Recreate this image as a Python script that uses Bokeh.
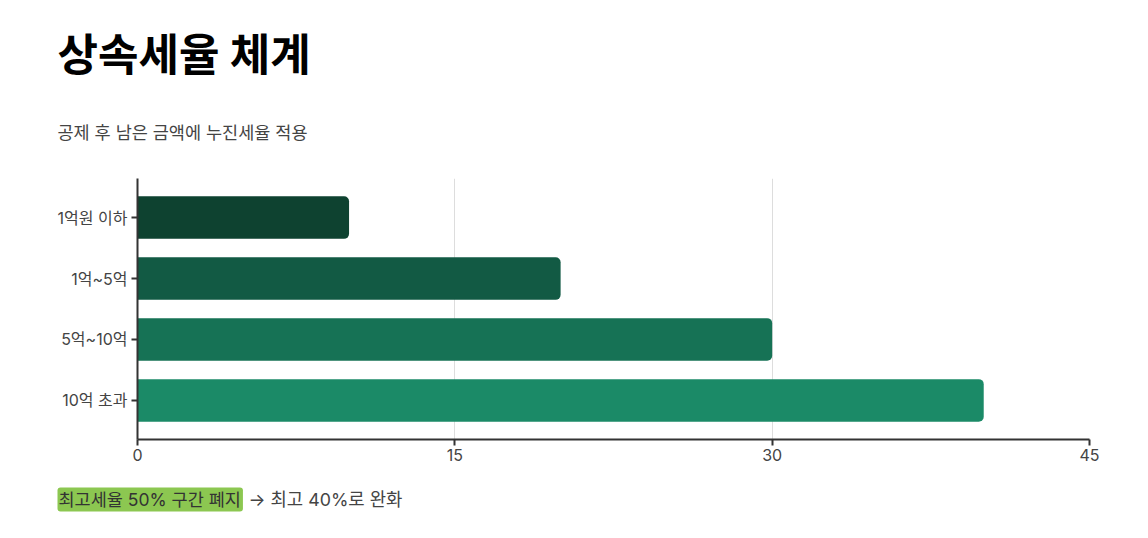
from bokeh.plotting import figure
from bokeh.layouts import column, row
from bokeh.models import Range1d, FixedTicker, Label, ColumnDataSource
from bokeh.embed import file_html
from bokeh.resources import INLINE

# Inheritance tax brackets and top marginal rates (%)
brackets = ["1억원 이하", "1억~5억", "5억~10억", "10억 초과"]
rates = [10, 20, 30, 40]
bar_colors = ["#0e4230", "#125a44", "#167255", "#1b8a67"]
x_ticks = [0, 15, 30, 45]

FONT = "Inter, 'Noto Sans CJK KR', sans-serif"
W = 1148
HEAD_H, CHART_H, FOOT_H = 160, 310, 68
LEFT, RIGHT = 137, 59


def text_panel(height):
    """Blank strip whose data space equals page pixels (y pointing down)."""
    f = figure(width=W, height=height, output_backend="svg", toolbar_location=None,
               x_range=Range1d(0, W), y_range=Range1d(height, 0),
               min_border=0, min_border_left=0, min_border_right=0,
               min_border_top=0, min_border_bottom=0)
    f.axis.visible = False
    f.grid.grid_line_color = None
    f.outline_line_color = None
    f.background_fill_color = "white"
    f.border_fill_color = "white"
    return f


# ---- header ----
head = text_panel(HEAD_H)
head.add_layout(Label(x=57, y=54, text="상속세율 체계", text_font=FONT,
                      text_font_size="44px", text_font_style="bold",
                      text_color="#000000", text_baseline="middle"))
head.add_layout(Label(x=57, y=132, text="공제 후 남은 금액에 누진세율 적용",
                      text_font=FONT, text_font_size="17.5px", text_color="#444444",
                      text_baseline="middle"))

# ---- bar chart ----
positions = list(range(len(brackets)))
src = ColumnDataSource(dict(y=positions, v=rates, c=bar_colors))

p = figure(width=W, height=CHART_H, output_backend="svg", toolbar_location=None,
           x_range=Range1d(0, 45), y_range=Range1d(len(brackets) - 0.36, -0.64),
           min_border_left=LEFT, min_border_right=RIGHT,
           min_border_top=178 - HEAD_H, min_border_bottom=HEAD_H + CHART_H - 439)
p.outline_line_color = None
p.background_fill_color = "white"
p.border_fill_color = "white"

p.hbar(y="y", left=0, right="v", height=0.7, fill_color="c", line_color=None,
       border_radius=(0, 5, 5, 0), source=src)

p.xaxis.ticker = FixedTicker(ticks=x_ticks)
p.yaxis.ticker = FixedTicker(ticks=positions)
p.yaxis.major_label_overrides = {i: b for i, b in enumerate(brackets)}
for ax in (p.xaxis[0], p.yaxis[0]):
    ax.axis_line_color = "#333333"
    ax.axis_line_width = 2
    ax.major_tick_line_color = "#333333"
    ax.major_tick_line_width = 2
    ax.major_tick_out = 6
    ax.major_tick_in = 0
    ax.minor_tick_line_color = None
    ax.major_label_text_font = FONT
    ax.major_label_text_font_size = "16px"
    ax.major_label_text_color = "#444444"
p.xaxis.major_label_standoff = 3
p.yaxis.major_label_standoff = 4

p.ygrid.grid_line_color = None
p.xgrid.grid_line_color = "#dddddd"
p.xgrid.grid_line_width = 1

# ---- footnote ----
foot = text_panel(FOOT_H)
fy = 499 - HEAD_H - CHART_H
foot.add_layout(Label(x=57, y=fy, text="최고세율 50% 구간 폐지", text_font=FONT,
                      text_font_size="17.5px", text_color="#333333",
                      text_baseline="middle", background_fill_color="#8cc751",
                      padding=(1, 2, 1, 2), border_radius=3))
foot.add_layout(Label(x=248, y=fy, text="→ 최고 40%로 완화", text_font=FONT,
                      text_font_size="17.8px", text_color="#444444",
                      text_baseline="middle"))

layout = column(row(head), p, row(foot), spacing=0)
open("out.html", "w").write(file_html(layout, INLINE))
